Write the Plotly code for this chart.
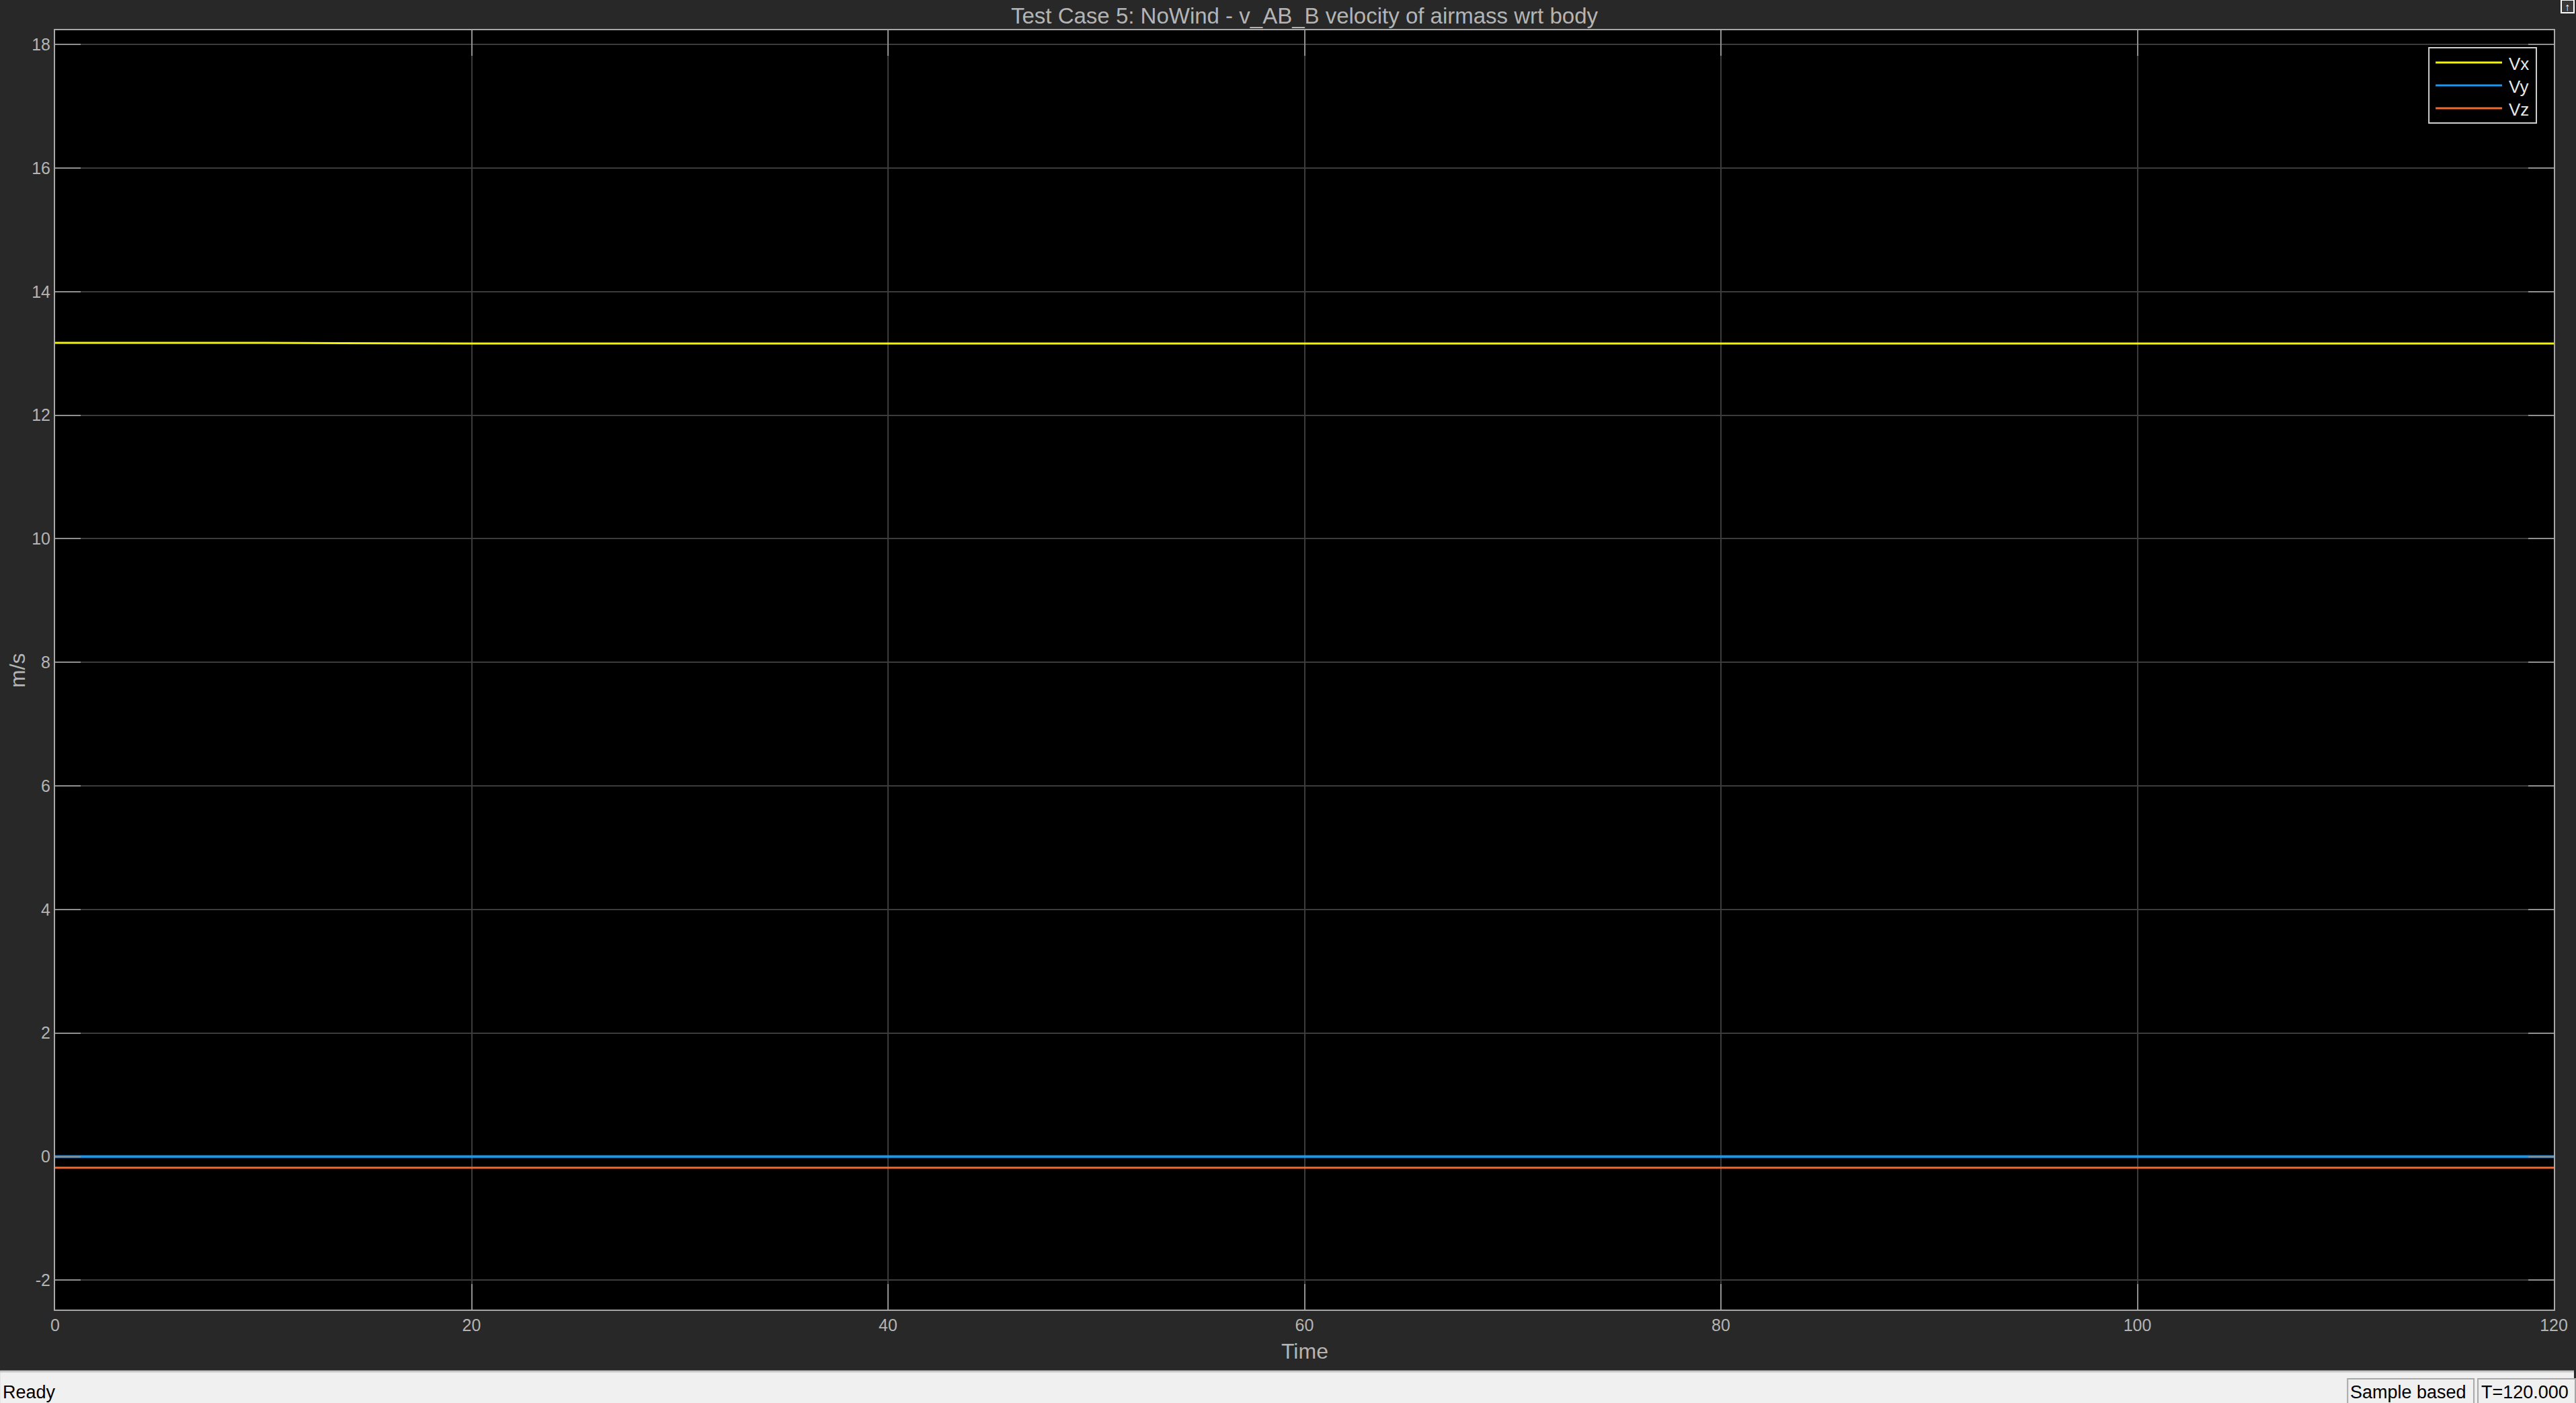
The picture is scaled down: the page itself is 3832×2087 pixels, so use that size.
import plotly.graph_objects as go

# ---- data ----
time = [0, 10, 20, 30, 40, 50, 60, 70, 80, 90, 100, 110, 120]
vx = [13.17, 13.17, 13.16, 13.16, 13.16, 13.16, 13.16, 13.16, 13.16, 13.16, 13.16, 13.16, 13.16]
vy = [0.0, 0.0, 0.0, 0.0, 0.0, 0.0, 0.0, 0.0, 0.0, 0.0, 0.0, 0.0, 0.0]
vz = [-0.18, -0.18, -0.18, -0.18, -0.18, -0.18, -0.18, -0.18, -0.18, -0.18, -0.18, -0.18, -0.18]
series_names = ["Vx", "Vy", "Vz"]
series_colors = ["#f2f20f", "#1a98f0", "#f06a32"]
series_widths = [3, 4, 3]
x_ticks = [0, 20, 40, 60, 80, 100, 120]
y_ticks = [-2, 0, 2, 4, 6, 8, 10, 12, 14, 16, 18]
x_tick_labels = ["0", "20", "40", "60", "80", "100", "120"]
y_tick_labels = ["-2", "0", "2", "4", "6", "8", "10", "12", "14", "16", "18"]
title_text = "Test Case 5: NoWind - v_AB_B velocity of airmass wrt body"

# ---- geometry ----
W, H = 3832, 2087
L, R, T, B = 82, 30, 45, 139
PW, PH = W - L - R, H - T - B


def px(x):
    return (x - L) / PW


def py(y):
    return (H - B - y) / PH


FONT = "Liberation Sans, Arial, Helvetica, sans-serif"
TXT = "#b4b4b4"

fig = go.Figure()
for name, ys, col, lw in zip(series_names, [vx, vy, vz], series_colors, series_widths):
    fig.add_trace(go.Scatter(x=time, y=ys, mode="lines", name=name,
                             line=dict(color=col, width=lw), showlegend=False))

shapes = []
annotations = []

# title
annotations.append(dict(text=title_text, x=0.5 * (px(L) + px(W - R)), y=py(24), xref="paper", yref="paper",
                        showarrow=False, xanchor="center", yanchor="middle",
                        font=dict(family=FONT, size=33, color=TXT)))
# axis titles
annotations.append(dict(text="Time", x=0.5, y=py(2010), xref="paper", yref="paper",
                        showarrow=False, xanchor="center", yanchor="middle",
                        font=dict(family=FONT, size=32, color=TXT)))
annotations.append(dict(text="m/s", x=px(26), y=py(997), xref="paper", yref="paper",
                        showarrow=False, xanchor="center", yanchor="middle", textangle=-90,
                        font=dict(family=FONT, size=32, color=TXT)))

# legend (drawn)
shapes.append(dict(type="rect", xref="paper", yref="paper", x0=px(3616), x1=px(3776), y0=py(183), y1=py(71),
                   line=dict(color="#d0d0d0", width=2), fillcolor="#000000", layer="above"))
for i, (name, col) in enumerate(zip(series_names, series_colors)):
    yy = 93 + 34 * i
    shapes.append(dict(type="line", xref="paper", yref="paper", x0=px(3626), x1=px(3725), y0=py(yy), y1=py(yy),
                       line=dict(color=col, width=3), layer="above"))
    annotations.append(dict(text=name, x=px(3733), y=py(yy + 2), xref="paper", yref="paper",
                            showarrow=False, xanchor="left", yanchor="middle",
                            font=dict(family=FONT, size=26, color="#e8e8e8")))

# status bar
shapes.append(dict(type="rect", xref="paper", yref="paper", x0=px(0), x1=px(W), y0=py(H), y1=py(2040),
                   line=dict(width=0), fillcolor="#f0f0f0", layer="above"))
shapes.append(dict(type="line", xref="paper", yref="paper", x0=px(0), x1=px(W), y0=py(2040), y1=py(2040),
                   line=dict(color="#c8c8c8", width=3), layer="above"))
shapes.append(dict(type="rect", xref="paper", yref="paper", x0=px(3495), x1=px(3683), y0=py(H + 2), y1=py(2051),
                   line=dict(color="#a8a8a8", width=2), fillcolor="#f0f0f0", layer="above"))
shapes.append(dict(type="rect", xref="paper", yref="paper", x0=px(3689), x1=px(W + 2), y0=py(H + 2), y1=py(2051),
                   line=dict(color="#a8a8a8", width=2), fillcolor="#f0f0f0", layer="above"))
annotations.append(dict(text="Ready", x=px(2), y=py(2071), xref="paper", yref="paper",
                        showarrow=False, xanchor="left", yanchor="middle",
                        font=dict(family=FONT, size=27, color="#000000")))
annotations.append(dict(text="Sample based", x=px(3497), y=py(2071), xref="paper", yref="paper",
                        showarrow=False, xanchor="left", yanchor="middle",
                        font=dict(family=FONT, size=27, color="#000000")))
annotations.append(dict(text="T=120.000", x=px(3692), y=py(2071), xref="paper", yref="paper",
                        showarrow=False, xanchor="left", yanchor="middle",
                        font=dict(family=FONT, size=27, color="#000000")))
# corner icon
shapes.append(dict(type="rect", xref="paper", yref="paper", x0=px(3813), x1=px(3832), y0=py(19), y1=py(0),
                   line=dict(color="#ffffff", width=2), fillcolor="#3a3a3a", layer="above"))
annotations.append(dict(text="\u2191", x=px(3822), y=py(11), xref="paper", yref="paper",
                        showarrow=False, xanchor="center", yanchor="middle",
                        font=dict(family=FONT, size=16, color="#ffffff")))

axis_common = dict(
    showgrid=True, gridcolor="#3c3c3c", gridwidth=2,
    showline=True, linecolor="#a8a8a8", linewidth=2, mirror="ticks",
    ticks="inside", ticklen=38, tickwidth=2, tickcolor="#909090",
    tickfont=dict(family=FONT, size=25, color=TXT),
    zeroline=False, fixedrange=True,
)

fig.update_layout(
    width=W, height=H,
    margin=dict(l=L, r=R, t=T, b=B, pad=0),
    paper_bgcolor="#282828", plot_bgcolor="#000000",
    xaxis=dict(range=[0, 120], tickmode="array", tickvals=x_ticks, ticktext=x_tick_labels, **axis_common),
    yaxis=dict(range=[-2.475, 18.23], tickmode="array", tickvals=y_ticks, ticktext=y_tick_labels, **axis_common),
    shapes=shapes, annotations=annotations, showlegend=False,
)

fig.write_html(
    "out.html",
    config={"displayModeBar": False},
    post_script="document.body.style.margin='0';document.body.style.padding='0';document.body.style.overflow='hidden';",
)
